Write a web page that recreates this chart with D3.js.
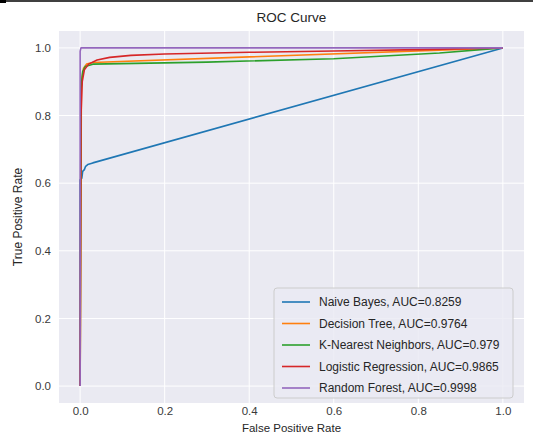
<!DOCTYPE html>
<html><head><meta charset="utf-8">
<script src="https://cdn.jsdelivr.net/npm/d3@7"></script>
<style>body{margin:0;background:#fff;} svg{display:block;font-family:"Liberation Sans",Arial,sans-serif;}</style>
</head><body>
<svg id="c" width="533" height="440"></svg>
<script>
const seriesNames = ["Naive Bayes, AUC=0.8259","Decision Tree, AUC=0.9764","K-Nearest Neighbors, AUC=0.979","Logistic Regression, AUC=0.9865","Random Forest, AUC=0.9998"];
const colors = ["#1f77b4","#ff7f0e","#2ca02c","#d62728","#9467bd"];
const nbFpr = [0,0,0.004,0.006,0.01,0.013,0.018,0.03,1];
const nbTpr = [0,0.61,0.615,0.635,0.64,0.65,0.655,0.66,1];
const dtFpr = [0,0.003,0.008,0.015,0.03,1];
const dtTpr = [0,0.9,0.94,0.952,0.957,1];
const knnFpr = [0,0.002,0.006,0.012,0.03,0.3,0.6,0.85,1];
const knnTpr = [0,0.88,0.93,0.945,0.952,0.958,0.968,0.985,1];
const lrFpr = [0,0.002,0.005,0.01,0.02,0.04,0.07,0.12,0.2,0.4,0.6,0.8,1];
const lrTpr = [0,0.8,0.9,0.935,0.952,0.964,0.972,0.978,0.982,0.987,0.991,0.995,1];
const rfFpr = [0,0,0.002,1];
const rfTpr = [0,0.99,1,1];
const fprs = [nbFpr,dtFpr,knnFpr,lrFpr,rfFpr];
const tprs = [nbTpr,dtTpr,knnTpr,lrTpr,rfTpr];
const ticks = [0,0.2,0.4,0.6,0.8,1.0];

const svg = d3.select("#c");
svg.append("line").attr("x1",0).attr("x2",533).attr("y1",1).attr("y2",1).attr("stroke","#000").attr("stroke-width",1.5);
svg.append("line").attr("x1",0).attr("x2",6).attr("y1",1.5).attr("y2",1.5).attr("stroke","#000").attr("stroke-width",3);

const x = d3.scaleLinear().domain([-0.05,1.05]).range([59,524]);
const y = d3.scaleLinear().domain([-0.05,1.05]).range([403,31]);

svg.append("rect").attr("x",x(-0.05)).attr("y",y(1.05)).attr("width",x(1.05)-x(-0.05)).attr("height",y(-0.05)-y(1.05)).attr("fill","#eaeaf2");

const gx = svg.append("g");
ticks.forEach(t=>{
  gx.append("line").attr("x1",x(t)).attr("x2",x(t)).attr("y1",y(1.05)).attr("y2",y(-0.05)).attr("stroke","#fff").attr("stroke-width",1);
  gx.append("line").attr("y1",y(t)).attr("y2",y(t)).attr("x1",x(-0.05)).attr("x2",x(1.05)).attr("stroke","#fff").attr("stroke-width",1);
});

const xAxis = d3.axisBottom(x).tickValues(ticks).tickFormat(d3.format(".1f")).tickSize(0).tickPadding(4);
const yAxis = d3.axisLeft(y).tickValues(ticks).tickFormat(d3.format(".1f")).tickSize(0).tickPadding(8);
const ax = svg.append("g").attr("transform",`translate(0,${y(-0.05)})`).call(xAxis);
const ay = svg.append("g").attr("transform",`translate(${x(-0.05)},0)`).call(yAxis);
[ax,ay].forEach(g=>{g.select(".domain").remove(); g.selectAll("text").attr("fill","#3a3a3a").style("font-size","11.5px").style("font-family","Liberation Sans, Arial, sans-serif");});

const line = d3.line().x(d=>x(d[0])).y(d=>y(d[1]));
fprs.forEach((f,i)=>{
  const pts = f.map((v,j)=>[v,tprs[i][j]]);
  svg.append("path").attr("d",line(pts)).attr("fill","none").attr("stroke",colors[i]).attr("stroke-width",1.6).attr("stroke-linejoin","round");
});

svg.append("text").attr("x",(x(-0.05)+x(1.05))/2).attr("y",22).attr("text-anchor","middle").attr("fill","#262626").style("font-size","13.5px").text("ROC Curve");
svg.append("text").attr("x",(x(-0.05)+x(1.05))/2).attr("y",432).attr("text-anchor","middle").attr("fill","#262626").style("font-size","11.5px").text("False Positive Rate");
svg.append("text").attr("transform",`translate(22,${(y(-0.05)+y(1.05))/2}) rotate(-90)`).attr("text-anchor","middle").attr("fill","#262626").style("font-size","12px").text("True Positive Rate");

const lg = svg.append("g");
const lx = 274, ly = 288, lw = 239, lh = 110;
lg.append("rect").attr("x",lx).attr("y",ly).attr("width",lw).attr("height",lh).attr("rx",3).attr("fill","#eaeaf2").attr("fill-opacity",0.8).attr("stroke","#cccccc").attr("stroke-width",1);
seriesNames.forEach((n,i)=>{
  const yy = ly + 14 + i*21.5;
  lg.append("line").attr("x1",lx+8).attr("x2",lx+36).attr("y1",yy).attr("y2",yy).attr("stroke",colors[i]).attr("stroke-width",1.6);
  lg.append("text").attr("x",lx+45).attr("y",yy+4).attr("fill","#262626").style("font-size","12px").text(n);
});
</script>
</body></html>
